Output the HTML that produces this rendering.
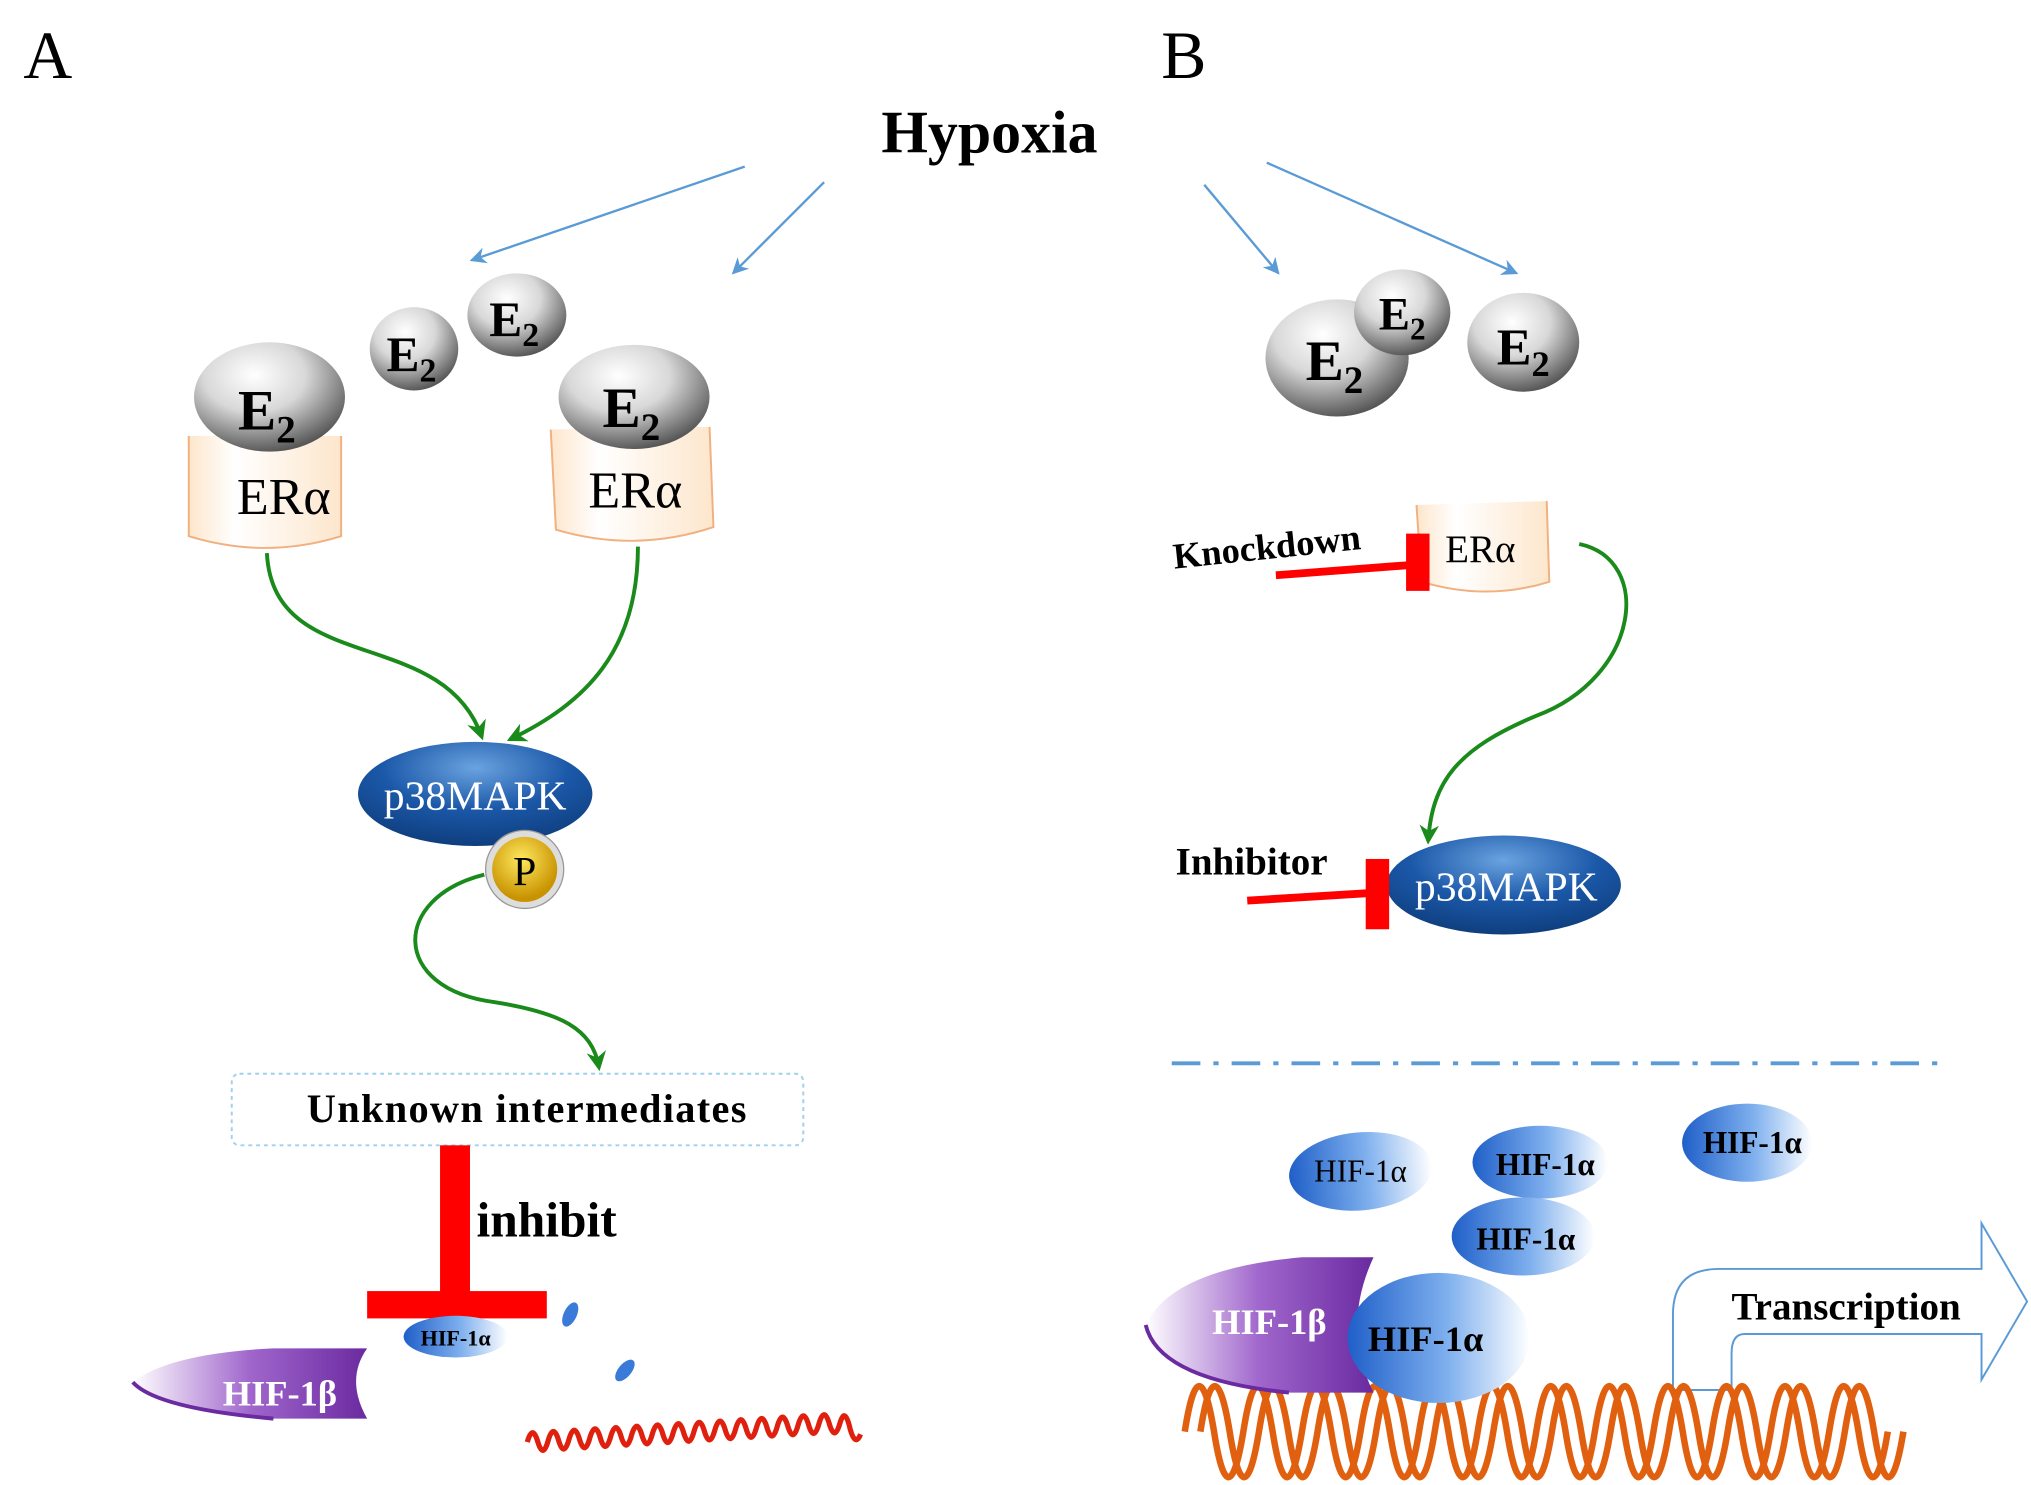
<!DOCTYPE html>
<html><head><meta charset="utf-8"><style>
html,body{margin:0;padding:0;background:#fff;width:2031px;height:1485px;overflow:hidden}
svg{display:block}
text{font-family:"Liberation Serif",serif}
</style></head><body>
<svg width="2031" height="1485" viewBox="0 0 1560 1141" preserveAspectRatio="none" xmlns="http://www.w3.org/2000/svg">
<defs>
<radialGradient id="sph" cx="0.4" cy="0.3" r="0.75"><stop offset="0" stop-color="#fff"/><stop offset="0.45" stop-color="#d8d8d8"/><stop offset="1" stop-color="#4a4a4a"/></radialGradient>
<linearGradient id="cyl" x1="0" x2="1"><stop offset="0" stop-color="#fde6cc"/><stop offset="0.3" stop-color="#fff"/><stop offset="1" stop-color="#fde6cc"/></linearGradient>
<radialGradient id="p38" cx="0.5" cy="0.25" r="0.8"><stop offset="0" stop-color="#6aa3e0"/><stop offset="0.5" stop-color="#1b58a8"/><stop offset="1" stop-color="#0d3a78"/></radialGradient>
<radialGradient id="pp" cx="0.45" cy="0.35" r="0.6"><stop offset="0" stop-color="#ffe860"/><stop offset="1" stop-color="#c89200"/></radialGradient>
<linearGradient id="hifa" x1="0" x2="1"><stop offset="0" stop-color="#1f5fc8"/><stop offset="0.55" stop-color="#7fb0ee"/><stop offset="1" stop-color="#fff"/></linearGradient>
<linearGradient id="hifb" x1="0" x2="1"><stop offset="0" stop-color="#fff"/><stop offset="0.5" stop-color="#a066cc"/><stop offset="1" stop-color="#6a2aa0"/></linearGradient>
<marker id="ab" viewBox="0 0 10 10" refX="9" refY="5" markerWidth="7" markerHeight="7" orient="auto"><path d="M0,0 L10,5 L0,10 L3,5z" fill="#5b9bd5"/></marker>
<marker id="ag" viewBox="0 0 10 10" refX="8" refY="5" markerWidth="5" markerHeight="5" orient="auto"><path d="M0,0 L10,5 L0,10 L3,5z" fill="#1a8a1a"/></marker>
</defs>
<text x="18" y="60" font-size="52">A</text>
<text x="892" y="60" font-size="52">B</text>
<text x="760" y="117" font-size="46" font-weight="bold" text-anchor="middle">Hypoxia</text>
<g stroke="#5b9bd5" stroke-width="1.8" fill="none" marker-end="url(#ab)">
<line x1="572" y1="128" x2="362" y2="200"/><line x1="633" y1="140" x2="563" y2="210"/>
<line x1="925" y1="142" x2="982" y2="210"/><line x1="973" y1="125" x2="1165" y2="210"/>
</g>
<g stroke="#f0b080" stroke-width="1.5">
<path d="M145,335 L145,412 Q204,430 262,412 L262,335" fill="url(#cyl)"/>
<path d="M423,330 L427,407 Q488,425 548,405 L545,328" fill="url(#cyl)"/>
<path d="M1088,388 L1092,447 Q1142,462 1190,447 L1188,385" fill="url(#cyl)"/>
</g>
<text x="218" y="395" font-size="40" text-anchor="middle">ERα</text>
<text x="488" y="390" font-size="40" text-anchor="middle">ERα</text>
<text x="1137" y="432" font-size="30" text-anchor="middle">ERα</text>
<g fill="url(#sph)">
<ellipse cx="207" cy="305" rx="58" ry="42"/><ellipse cx="318" cy="268" rx="34" ry="32"/>
<ellipse cx="397" cy="242" rx="38" ry="32"/><ellipse cx="487" cy="305" rx="58" ry="40"/>
<ellipse cx="1027" cy="275" rx="55" ry="45"/><ellipse cx="1077" cy="240" rx="37" ry="33"/>
<ellipse cx="1170" cy="263" rx="43" ry="38"/>
</g>
<g font-weight="bold" font-size="44" text-anchor="middle">
<text x="205" y="330">E<tspan font-size="30" dy="10">2</tspan></text>
<text x="485" y="328">E<tspan font-size="30" dy="10">2</tspan></text>
<text x="316" y="285" font-size="38">E<tspan font-size="26" dy="8">2</tspan></text>
<text x="395" y="258" font-size="38">E<tspan font-size="26" dy="8">2</tspan></text>
<text x="1025" y="292">E<tspan font-size="30" dy="10">2</tspan></text>
<text x="1077" y="253" font-size="36">E<tspan font-size="24" dy="8">2</tspan></text>
<text x="1170" y="280" font-size="40">E<tspan font-size="28" dy="9">2</tspan></text>
</g>
<g stroke="#1a8a1a" stroke-width="3" fill="none" marker-end="url(#ag)">
<path d="M205,425 C210,520 340,480 370,566"/>
<path d="M490,420 C490,500 450,540 392,568"/>
<path d="M372,672 C300,690 300,760 380,770 C430,778 455,790 460,820"/>
<path d="M1213,418 C1270,430 1260,520 1180,550 C1120,575 1100,600 1097,646"/>
</g>
<ellipse cx="365" cy="610" rx="90" ry="40" fill="url(#p38)"/>
<text x="365" y="622" font-size="32" fill="#fff" text-anchor="middle">p38MAPK</text>
<circle cx="403" cy="668" r="30" fill="#ddd" stroke="#999"/>
<circle cx="403" cy="668" r="25" fill="url(#pp)"/>
<text x="403" y="680" font-size="32" text-anchor="middle">P</text>
<rect x="178" y="825" width="439" height="55" rx="6" fill="none" stroke="#9fd0ee" stroke-dasharray="3,3" stroke-width="1.5"/>
<text x="405" y="862" font-size="31" font-weight="bold" text-anchor="middle" letter-spacing="1">Unknown  intermediates</text>
<rect x="338" y="880" width="23" height="120" fill="#f00"/>
<rect x="282" y="992" width="138" height="21" fill="#f00"/>
<text x="366" y="950" font-size="38" font-weight="bold">inhibit</text>
<ellipse cx="350" cy="1027" rx="40" ry="16" fill="url(#hifa)"/>
<text x="350" y="1034" font-size="17" font-weight="bold" text-anchor="middle">HIF-1α</text>
<ellipse cx="438" cy="1010" rx="5" ry="10" fill="#3a7ad8" transform="rotate(25 438 1010)"/>
<ellipse cx="480" cy="1053" rx="5" ry="10" fill="#3a7ad8" transform="rotate(40 480 1053)"/>
<path d="M102,1062 Q130,1040 210,1036 L282,1036 Q265,1060 282,1090 L210,1090 Q120,1082 102,1062z" fill="url(#hifb)"/>
<path d="M102,1062 Q120,1082 210,1090" fill="none" stroke="#6a2aa0" stroke-width="3"/>
<text x="215" y="1080" font-size="28" font-weight="bold" fill="#fff" text-anchor="middle">HIF-1β</text>
<path d="M405,1108 q4,-14 8,-0.5 q4,14 8,-0.5 q4,-14 8,-0.5 q4,14 8,-0.5 q4,-14 8,-0.5 q4,14 8,-0.5 q4,-14 8,-0.5 q4,14 8,-0.5 q4,-14 8,-0.5 q4,14 8,-0.5 q4,-14 8,-0.5 q4,14 8,-0.5 q4,-14 8,-0.5 q4,14 8,-0.5 q4,-14 8,-0.5 q4,14 8,-0.5 q4,-14 8,-0.5 q4,14 8,-0.5 q4,-14 8,-0.5 q4,14 8,-0.5 q4,-14 8,-0.5 q4,14 8,-0.5 q4,-14 8,-0.5 q4,14 8,-0.5 q4,-14 8,-0.5 q4,14 8,-0.5 q4,-14 8,-0.5 q4,14 8,-0.5 q4,-14 8,0 q4,14 8,0 q4,-14 8,4 q4,14 8,4" fill="none" stroke="#e0200e" stroke-width="4"/>
<text x="902" y="437" font-size="28" font-weight="bold" transform="rotate(-6 902 437)">Knockdown</text>
<line x1="980" y1="442" x2="1085" y2="434" stroke="#f00" stroke-width="6"/>
<rect x="1080" y="410" width="18" height="44" fill="#f00"/>
<text x="903" y="672" font-size="30" font-weight="bold">Inhibitor</text>
<ellipse cx="1155" cy="680" rx="90" ry="38" fill="url(#p38)"/>
<text x="1157" y="692" font-size="32" fill="#fff" text-anchor="middle">p38MAPK</text>
<line x1="958" y1="692" x2="1055" y2="686" stroke="#f00" stroke-width="6"/>
<rect x="1049" y="660" width="18" height="54" fill="#f00"/>
<line x1="900" y1="817" x2="1495" y2="817" stroke="#5b9bd5" stroke-width="3" stroke-dasharray="22,10,4,10"/>
<ellipse cx="1045" cy="900" rx="55" ry="30" fill="url(#hifa)" transform="rotate(-5 1045 900)"/>
<ellipse cx="1183" cy="893" rx="52" ry="28" fill="url(#hifa)"/>
<ellipse cx="1342" cy="878" rx="50" ry="30" fill="url(#hifa)"/>
<ellipse cx="1170" cy="950" rx="55" ry="30" fill="url(#hifa)"/>
<text x="1045" y="908" font-size="24" text-anchor="middle">HIF-1α</text>
<text x="1187" y="903" font-size="24" font-weight="bold" text-anchor="middle">HIF-1α</text>
<text x="1346" y="886" font-size="24" font-weight="bold" text-anchor="middle">HIF-1α</text>
<text x="1172" y="960" font-size="24" font-weight="bold" text-anchor="middle">HIF-1α</text>
<path d="M1285,1068 L1285,1010 Q1285,975 1320,975 L1522,975 L1522,940 L1557,1000 L1522,1060 L1522,1025 L1340,1025 Q1330,1025 1330,1040 L1330,1068z" fill="#fff" stroke="#5b9bd5" stroke-width="1.5"/>
<text x="1418" y="1014" font-size="30" font-weight="bold" text-anchor="middle">Transcription</text>
<path d="M910,1100 q11,-70 22.5,0 q11,70 22.5,0 q11,-70 22.5,0 q11,70 22.5,0 q11,-70 22.5,0 q11,70 22.5,0 q11,-70 22.5,0 q11,70 22.5,0 q11,-70 22.5,0 q11,70 22.5,0 q11,-70 22.5,0 q11,70 22.5,0 q11,-70 22.5,0 q11,70 22.5,0 q11,-70 22.5,0 q11,70 22.5,0 q11,-70 22.5,0 q11,70 22.5,0 q11,-70 22.5,0 q11,70 22.5,0 q11,-70 22.5,0 q11,70 22.5,0 q11,-70 22.5,0 q11,70 22.5,0" fill="none" stroke="#e06010" stroke-width="5"/>
<path d="M922,1100 q11,-70 22.5,0 q11,70 22.5,0 q11,-70 22.5,0 q11,70 22.5,0 q11,-70 22.5,0 q11,70 22.5,0 q11,-70 22.5,0 q11,70 22.5,0 q11,-70 22.5,0 q11,70 22.5,0 q11,-70 22.5,0 q11,70 22.5,0 q11,-70 22.5,0 q11,70 22.5,0 q11,-70 22.5,0 q11,70 22.5,0 q11,-70 22.5,0 q11,70 22.5,0 q11,-70 22.5,0 q11,70 22.5,0 q11,-70 22.5,0 q11,70 22.5,0 q11,-70 22.5,0 q11,70 22.5,0" fill="none" stroke="#e06010" stroke-width="5"/>
<path d="M880,1018 Q900,975 1000,966 L1055,966 Q1030,1020 1055,1070 L990,1070 Q890,1060 880,1018z" fill="url(#hifb)"/>
<path d="M880,1018 Q890,1060 990,1070" fill="none" stroke="#6a2aa0" stroke-width="3"/>
<text x="975" y="1025" font-size="28" font-weight="bold" fill="#fff" text-anchor="middle">HIF-1β</text>
<ellipse cx="1105" cy="1028" rx="70" ry="50" fill="url(#hifa)"/>
<text x="1095" y="1038" font-size="28" font-weight="bold" text-anchor="middle">HIF-1α</text>
</svg>
</body></html>
